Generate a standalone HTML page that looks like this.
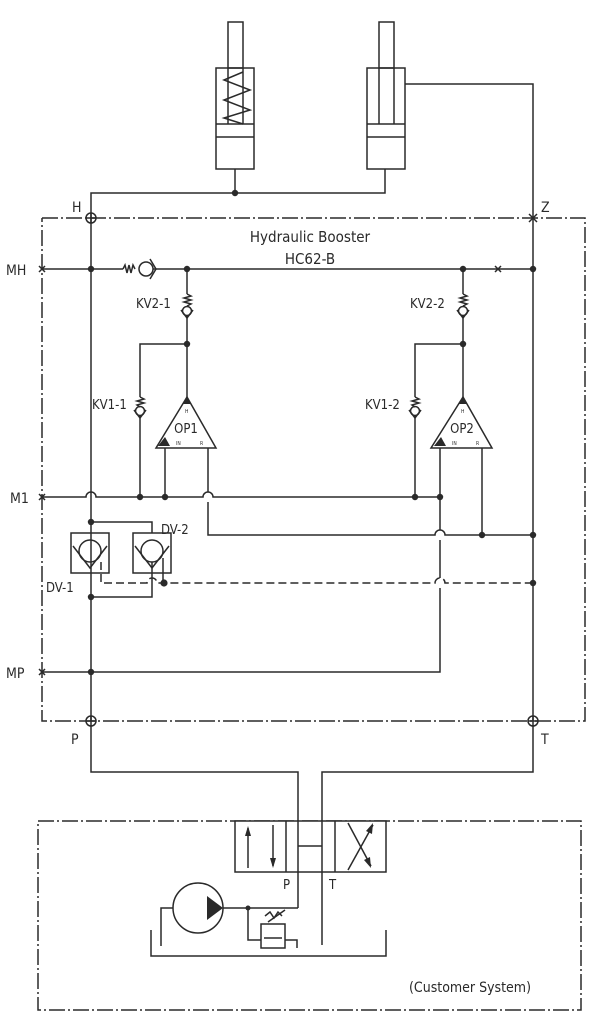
<!DOCTYPE html>
<html><head><meta charset="utf-8"><style>
html,body{margin:0;padding:0;background:#fff;}
svg{display:block;}
text{font-family:"DejaVu Sans Condensed","Liberation Sans",sans-serif;fill:#2a2a2a;}
</style></head><body>
<svg width="605" height="1024" viewBox="0 0 605 1024" xmlns="http://www.w3.org/2000/svg">
<g fill="none" stroke="#2a2a2a" stroke-width="1.5">
<rect x="228" y="22" width="15" height="46"/>
<rect x="216" y="68" width="38" height="101"/>
<line x1="216" y1="124" x2="254" y2="124"/>
<line x1="216" y1="137" x2="254" y2="137"/>
<line x1="228" y1="68" x2="228" y2="124"/><line x1="243" y1="68" x2="243" y2="124"/>
<polyline points="243,72 224,80 250,90 224,100 250,110 224,118 243,124"/>
<rect x="379" y="22" width="15" height="46"/>
<rect x="367" y="68" width="38" height="101"/>
<line x1="379" y1="68" x2="379" y2="124"/><line x1="394" y1="68" x2="394" y2="124"/>
<line x1="367" y1="124" x2="405" y2="124"/>
<line x1="367" y1="137" x2="405" y2="137"/>
<polyline points="405,84 533,84 533,721"/>
<line x1="235" y1="169" x2="235" y2="193"/>
<polyline points="385,169 385,193 91,193 91,721"/>
<polyline stroke-dasharray="16 3 2 3" points="42,218 585,218 585,721 42,721 42,218"/>
<line x1="42" y1="269" x2="123" y2="269"/>
<polyline points="123,269 125,265 127,273 129,265 131,273 133,265 135,269"/>
<circle cx="146" cy="269" r="7"/>
<polyline points="150,259 156,269 150,279"/>
<line x1="153" y1="269" x2="533" y2="269"/>
<line x1="187" y1="269" x2="187" y2="294"/>
<polyline points="187,294 191,296 184,298 191,300 184,302 191,304 187,306"/>
<circle cx="187" cy="311" r="4.5"/>
<polyline points="181,310 187,318 193,310"/>
<line x1="187" y1="316" x2="187" y2="397"/>
<polyline points="187,344 140,344 140,397"/>
<polyline points="140,397 144,399 137,401 144,403 137,405 140,407"/>
<circle cx="140" cy="411" r="4.5"/>
<polyline points="134,410 140,418 146,410"/>
<line x1="140" y1="415" x2="140" y2="497"/>
<polygon points="187,397 156,448 216,448"/>
<line x1="463" y1="269" x2="463" y2="294"/>
<polyline points="463,294 467,296 460,298 467,300 460,302 467,304 463,306"/>
<circle cx="463" cy="311" r="4.5"/>
<polyline points="457,310 463,318 469,310"/>
<line x1="463" y1="316" x2="463" y2="397"/>
<polyline points="463,344 415,344 415,397"/>
<polyline points="415,397 419,399 412,401 419,403 412,405 415,407"/>
<circle cx="415" cy="411" r="4.5"/>
<polyline points="409,410 415,418 421,410"/>
<line x1="415" y1="415" x2="415" y2="497"/>
<polygon points="463,397 431,448 492,448"/>
<path d="M42,497 H86 a5,5 0 0 1 10,0 H203 a5,5 0 0 1 10,0 H440"/>
<line x1="165" y1="448" x2="165" y2="497"/>
<path d="M208,448 V492 M208,502 V535 H435 a5,5 0 0 1 10,0 H533"/>
<line x1="482" y1="448" x2="482" y2="535"/>
<path d="M440,448 V530 M440,540 V578 M440,588 V672 H42"/>
<polyline points="91,522 152,522 152,533"/>
<rect x="71" y="533" width="38" height="40"/>
<rect x="133" y="533" width="38" height="40"/>
<circle cx="90" cy="551" r="11"/>
<circle cx="152" cy="551" r="11"/>
<polyline points="73,546 90,568 107,546"/>
<polyline points="135,546 152,568 169,546"/>
<polyline points="152,562 152,597 91,597"/>
<line x1="163" y1="558" x2="163" y2="583"/>
<path stroke-dasharray="8 4" d="M101,562 V583 H147 a5,5 0 0 1 10,0 H435 a5,5 0 0 1 10,0 H533"/>
<circle cx="91" cy="218" r="5"/><line x1="86" y1="218" x2="96" y2="218"/><line x1="91" y1="213" x2="91" y2="223"/>
<circle cx="91" cy="721" r="5"/><line x1="86" y1="721" x2="96" y2="721"/><line x1="91" y1="716" x2="91" y2="726"/>
<circle cx="533" cy="721" r="5"/><line x1="528" y1="721" x2="538" y2="721"/><line x1="533" y1="716" x2="533" y2="726"/>
<path d="M529,214 l8,8 M537,214 l-8,8 M39,266 l6,6 M45,266 l-6,6 M39,494 l6,6 M45,494 l-6,6 M39,669 l6,6 M45,669 l-6,6 M495,266 l6,6 M501,266 l-6,6"/>
<polyline points="91,726 91,772 298,772 298,908"/>
<polyline points="533,726 533,772 322,772 322,945"/>
<polyline stroke-dasharray="16 3 2 3" points="38,821 581,821 581,1010 38,1010 38,821"/>
<rect x="235" y="821" width="151" height="51" fill="#fff"/>
<line x1="286" y1="821" x2="286" y2="872"/>
<line x1="335" y1="821" x2="335" y2="872"/>
<line x1="298" y1="821" x2="298" y2="872"/>
<line x1="322" y1="821" x2="322" y2="872"/>
<line x1="298" y1="846" x2="322" y2="846"/>
<line x1="248" y1="868" x2="248" y2="828"/>
<line x1="273" y1="825" x2="273" y2="866"/>
<line x1="348" y1="870" x2="373" y2="825"/>
<line x1="348" y1="823" x2="371" y2="866"/>
<circle cx="198" cy="908" r="25"/>
<line x1="223" y1="908" x2="298" y2="908"/>
<polyline points="173,908 161,908 161,946"/>
<polyline points="248,908 248,940 261,940"/>
<rect x="261" y="924" width="24" height="24"/>
<line x1="264" y1="938" x2="282" y2="938"/>
<polyline points="285,940 297,940 297,948"/>
<polyline points="265,916 270,912 274,918 278,912 282,916"/>
<line x1="268" y1="922" x2="285" y2="910"/>
<polyline points="151,930 151,956 386,956 386,930"/>
</g>
<g fill="#2a2a2a">
<polygon points="248,826 245,836 251,836"/>
<polygon points="273,868 270,858 276,858"/>
<polygon points="373,823 366,831 372,834"/>
<polygon points="371,868 364,860 370,857"/>
<polygon points="207,896 207,920 223,908"/>
<polygon points="187,397 183,404 191,404"/>
<polygon points="463,397 459,404 467,404"/>
<polygon points="158,446 165,437 170,446"/>
<polygon points="434,446 441,437 446,446"/>
<circle cx="235" cy="193" r="3.2"/>
<circle cx="91" cy="269" r="3.2"/><circle cx="187" cy="269" r="3.2"/><circle cx="463" cy="269" r="3.2"/><circle cx="533" cy="269" r="3.2"/>
<circle cx="187" cy="344" r="3.2"/><circle cx="463" cy="344" r="3.2"/>
<circle cx="140" cy="497" r="3.2"/><circle cx="165" cy="497" r="3.2"/><circle cx="415" cy="497" r="3.2"/><circle cx="440" cy="497" r="3.2"/>
<circle cx="91" cy="522" r="3.2"/><circle cx="482" cy="535" r="3.2"/><circle cx="533" cy="535" r="3.2"/>
<circle cx="164" cy="583" r="3.6"/><circle cx="533" cy="583" r="3.2"/>
<circle cx="91" cy="597" r="3.2"/><circle cx="91" cy="672" r="3.2"/>
<circle cx="248" cy="908" r="2.5"/>
</g>
<g font-size="14">
<text x="72" y="212">H</text>
<text x="541" y="212">Z</text>
<text x="310" y="242" text-anchor="middle" font-size="15">Hydraulic Booster</text>
<text x="310" y="264" text-anchor="middle" font-size="15">HC62-B</text>
<text x="6" y="275">MH</text>
<text x="10" y="503">M1</text>
<text x="6" y="678">MP</text>
<text x="71" y="744">P</text>
<text x="541" y="744">T</text>
<text x="136" y="308" font-size="13">KV2-1</text>
<text x="410" y="308" font-size="13">KV2-2</text>
<text x="92" y="409" font-size="13">KV1-1</text>
<text x="365" y="409" font-size="13">KV1-2</text>
<text x="186" y="433" text-anchor="middle" font-size="13">OP1</text>
<text x="462" y="433" text-anchor="middle" font-size="13">OP2</text>
<text x="46" y="592" font-size="13">DV-1</text>
<text x="161" y="534" font-size="13">DV-2</text>
<text x="283" y="889" font-size="13">P</text>
<text x="329" y="889" font-size="13">T</text>
<text x="409" y="992" font-size="14">(Customer System)</text>
</g>
<g font-size="5">
<text x="185" y="413">H</text><text x="461" y="413">H</text>
<text x="176" y="445">IN</text><text x="200" y="445">R</text>
<text x="452" y="445">IN</text><text x="476" y="445">R</text>
</g>
</svg>
</body></html>
